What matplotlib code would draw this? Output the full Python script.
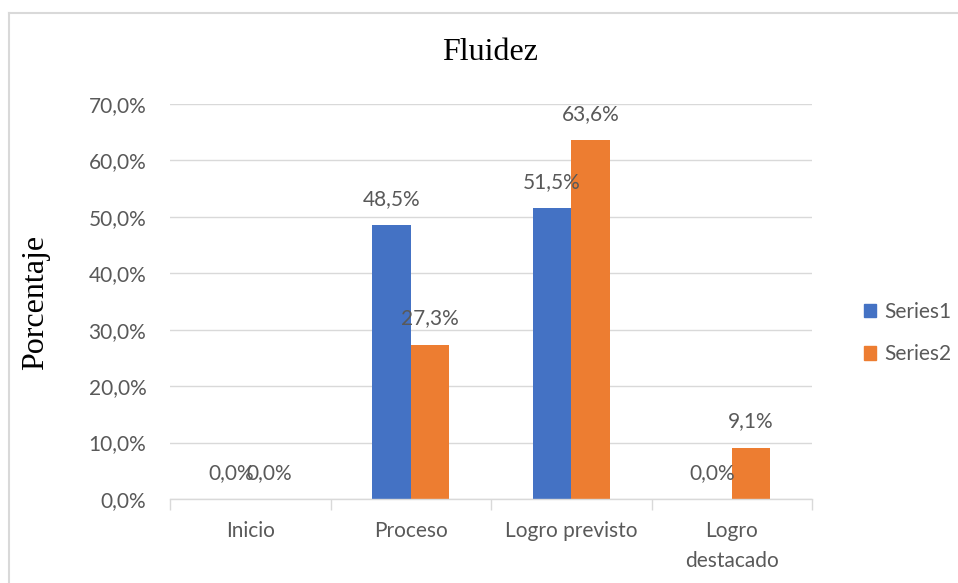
import matplotlib
matplotlib.use("Agg")
import matplotlib.pyplot as plt
from matplotlib.lines import Line2D
from matplotlib.patches import Patch
import numpy as np

categories = ["Inicio", "Proceso", "Logro previsto", "Logro\ndestacado"]
series1 = [0.0, 48.5, 51.5, 0.0]
series2 = [0.0, 27.3, 63.6, 9.1]
series_names = ["Series1", "Series2"]
yticks = [0, 10, 20, 30, 40, 50, 60, 70]

c1 = "#4472C4"
c2 = "#ED7D31"
grid_c = "#D9D9D9"
txt_c = "#595959"
sans = ["Lato", "DejaVu Sans"]
serif = ["Liberation Serif", "DejaVu Serif"]
fs = 15

fig = plt.figure(figsize=(9.58, 5.83), dpi=100)
ax = fig.add_axes([170/958, 1-499/583, (812-170)/958, (499-104)/583])

x = np.arange(len(categories))
w = 0.24
b1 = ax.bar(x - w/2, series1, w, color=c1, zorder=3)
b2 = ax.bar(x + w/2, series2, w, color=c2, zorder=3)

for bars, vals in ((b1, series1), (b2, series2)):
    for rect, v in zip(bars, vals):
        ax.annotate(f"{v:.1f}%".replace(".", ","),
                    (rect.get_x() + rect.get_width()/2, v),
                    xytext=(0, 19), textcoords="offset points",
                    ha="center", va="center", fontsize=fs,
                    color=txt_c, family=sans, zorder=4)

ax.set_ylim(0, 70)
ax.set_xlim(-0.5, len(categories) - 0.5)
ax.set_yticks(yticks)
ax.set_yticklabels([f"{t:.1f}%".replace(".", ",") for t in yticks],
                   fontsize=fs, color=txt_c, family=sans)
ax.set_xticks(x)
ax.set_xticklabels(categories, fontsize=fs, color=txt_c, family=sans,
                   linespacing=1.6)
ax.set_xticks(np.arange(-0.5, len(categories)), minor=True)
ax.tick_params(axis="x", which="major", length=0, pad=16)
ax.tick_params(axis="x", which="minor", length=8, color=grid_c, width=1)
ax.tick_params(axis="y", length=0, pad=17)

ax.grid(axis="y", color=grid_c, linewidth=1, zorder=0)
for s in ("top", "right", "left"):
    ax.spines[s].set_visible(False)
ax.spines["bottom"].set_color(grid_c)
ax.spines["bottom"].set_linewidth(1)
ax.spines["bottom"].set_zorder(3.5)

fig.text(36/958, 1-302/583, "Porcentaje", fontsize=23, family=serif,
         rotation=90, ha="center", va="center", color="black")
fig.text(490/958, 1-52/583, "Fluidez", fontsize=23, family=serif,
         ha="center", va="center", color="black")

handles = [Patch(color=c1), Patch(color=c2)]
fig.legend(handles, series_names, loc="center left",
           bbox_to_anchor=(845/958, 1-333/583), frameon=False,
           prop={"family": sans, "size": fs}, labelcolor=txt_c,
           handlelength=0.6, handleheight=0.6, handletextpad=0.4,
           labelspacing=1.1)

# outer chart border
fig.add_artist(Line2D([9/958, 9/958], [0, 1-13/583], color=grid_c, lw=1.5,
                      transform=fig.transFigure))
fig.add_artist(Line2D([9/958, 1], [1-13/583, 1-13/583], color=grid_c, lw=1.5,
                      transform=fig.transFigure))

fig.savefig("out.png", dpi=100, facecolor="white")
